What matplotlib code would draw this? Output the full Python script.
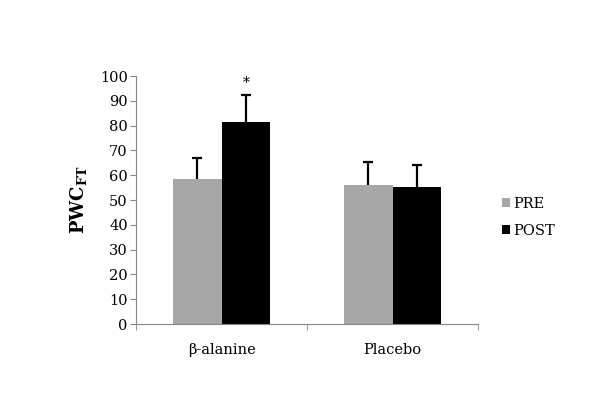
import matplotlib.pyplot as plt
import numpy as np

plt.rcParams["font.family"] = ["DejaVu Serif"]
plt.rcParams["mathtext.fontset"] = "custom"
plt.rcParams["mathtext.bf"] = "DejaVu Serif:bold"
plt.rcParams["mathtext.rm"] = "DejaVu Serif"

groups = ["β-alanine", "Placebo"]
pre = [58.3, 56.0]
post = [81.5, 55.2]
pre_err = [8.8, 9.2]
post_err = [10.8, 8.9]
star_y = 97

fig = plt.figure(figsize=(6, 4.19), dpi=100)
ax = fig.add_axes([0.2267, 0.2267, 0.5703, 0.5919])

x = np.arange(len(groups))
w = 0.285
ax.bar(x - w / 2, pre, w, color="#a6a6a6", label="PRE")
ax.bar(x + w / 2, post, w, color="black", label="POST")

# one-sided error bars, upper cap only
for xs, ys, es in [(x - w / 2, pre, pre_err), (x + w / 2, post, post_err)]:
    _, caps, _ = ax.errorbar(xs, ys, yerr=[np.zeros(2), es], fmt="none",
                             ecolor="black", elinewidth=1.6, capsize=3.5,
                             capthick=1.6)
    caps[0].set_visible(False)

ax.text(x[0] + w / 2, star_y, "*", ha="center", va="center", fontsize=10)

ax.set_xlim(-0.5, 1.5)
ax.set_ylim(0, 100)
ax.set_yticks(range(0, 101, 10))
ax.set_xticks(x)
ax.set_xticklabels(groups, fontsize=10.5)
ax.set_xticks([-0.5, 0.5, 1.5], minor=True)
ax.tick_params(axis="x", which="major", length=0, pad=14)
ax.tick_params(axis="x", which="minor", length=4, color="#868686")
ax.tick_params(axis="y", length=4, color="#868686", labelsize=10.5, pad=2)

for s in ["top", "right"]:
    ax.spines[s].set_visible(False)
for s in ["left", "bottom"]:
    ax.spines[s].set_color("#868686")

ax.set_ylabel(r"$\mathbf{PWC}_{\mathbf{FT}}$", fontsize=13, labelpad=8)

ax.legend(loc="center left", bbox_to_anchor=(1.03, 0.43), frameon=False,
          fontsize=10.5, handlelength=0.6, handleheight=0.6,
          handletextpad=0.2, labelspacing=0.9)

fig.savefig("out.png", dpi=100)
